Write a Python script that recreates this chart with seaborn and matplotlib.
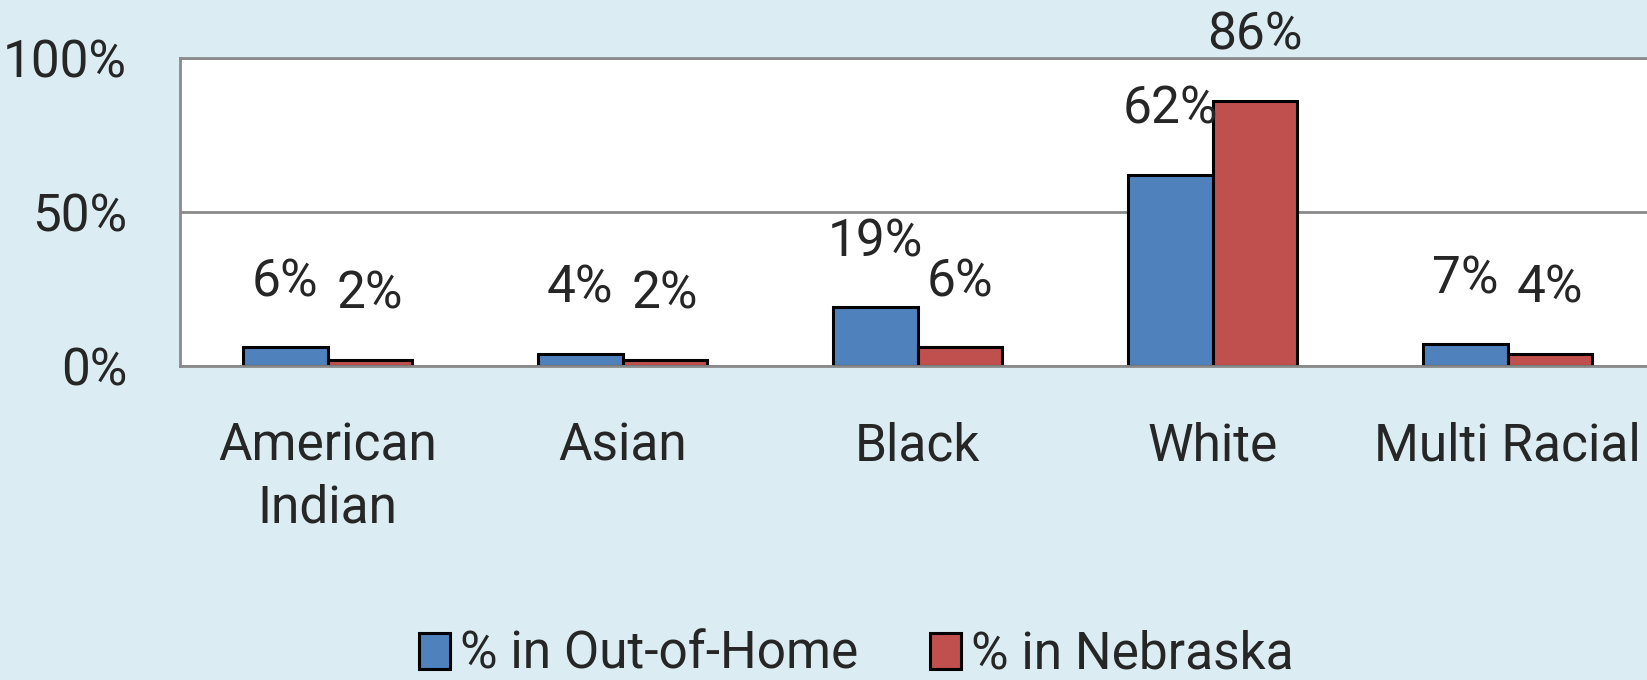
import numpy as np
import pandas as pd
import matplotlib
matplotlib.use("Agg")
import matplotlib.pyplot as plt
import seaborn as sns

categories = ["American\nIndian", "Asian", "Black", "White", "Multi Racial"]
series = ["% in Out-of-Home", "% in Nebraska"]
out_of_home = [6, 4, 19, 62, 7]
nebraska = [2, 2, 6, 86, 4]
colors = ["#4F81BD", "#C0504D"]

sns.set_style("white")
plt.rcParams["font.family"] = ["Roboto", "DejaVu Sans"]
plt.rcParams["font.size"] = 37

df = pd.DataFrame({
    "race": categories * 2,
    "series": [series[0]] * 5 + [series[1]] * 5,
    "pct": (np.array(out_of_home + nebraska) / 100.0),
})

gray = "#8A8A8A"
fig = plt.figure(figsize=(16.47, 6.80), dpi=100, facecolor="#DBEDF3")
ax = fig.add_axes([0.1093, 0.4618, 0.8956, 0.4529])
ax.set_facecolor("white")

sns.barplot(df, x="race", y="pct", hue="series", palette=colors, width=0.574,
            edgecolor="black", linewidth=2.2, saturation=1, ax=ax, order=categories)

# data labels floating above each bar
for cont in ax.containers:
    for rect in cont:
        h = rect.get_height()
        ax.annotate(f"{round(h * 100)}%", (rect.get_x() + rect.get_width() / 2, h),
                    xytext=(0, 47), textcoords="offset points",
                    ha="center", va="center", annotation_clip=False)

ax.set_xlim(-0.5, 4.5)
ax.set_ylim(0, 1)
ax.set_yticks([0, 0.5, 1.0], labels=["0%", "50%", "100%"])
ax.set_xticks(np.arange(-0.5, 5.0, 1.0), labels=[""] * 6)
ax.set_xticks(range(5), labels=categories, minor=True)
for t in ax.get_xticklabels(minor=True):
    t.set_linespacing(1.3)
ax.tick_params(axis="x", which="major", length=14, width=2, color=gray, direction="out")
ax.tick_params(axis="x", which="minor", length=0, pad=40)
ax.tick_params(axis="y", length=12, width=2, color=gray, pad=26)
ax.set_xlabel("")
ax.set_ylabel("")
ax.grid(axis="y", color=gray, linewidth=2)
ax.set_axisbelow(True)
for s in ["left", "bottom", "top"]:
    ax.spines[s].set_color(gray)
    ax.spines[s].set_linewidth(2)
ax.spines["right"].set_visible(False)

handles, labels = ax.get_legend_handles_labels()
ax.get_legend().remove()
fig.legend(handles, labels, loc="center", bbox_to_anchor=(0.52, 0.037), ncol=2,
           frameon=False, handlelength=0.6, handleheight=0.7, handletextpad=0.2,
           columnspacing=1.4)

fig.savefig("out.png", dpi=100, facecolor=fig.get_facecolor())
